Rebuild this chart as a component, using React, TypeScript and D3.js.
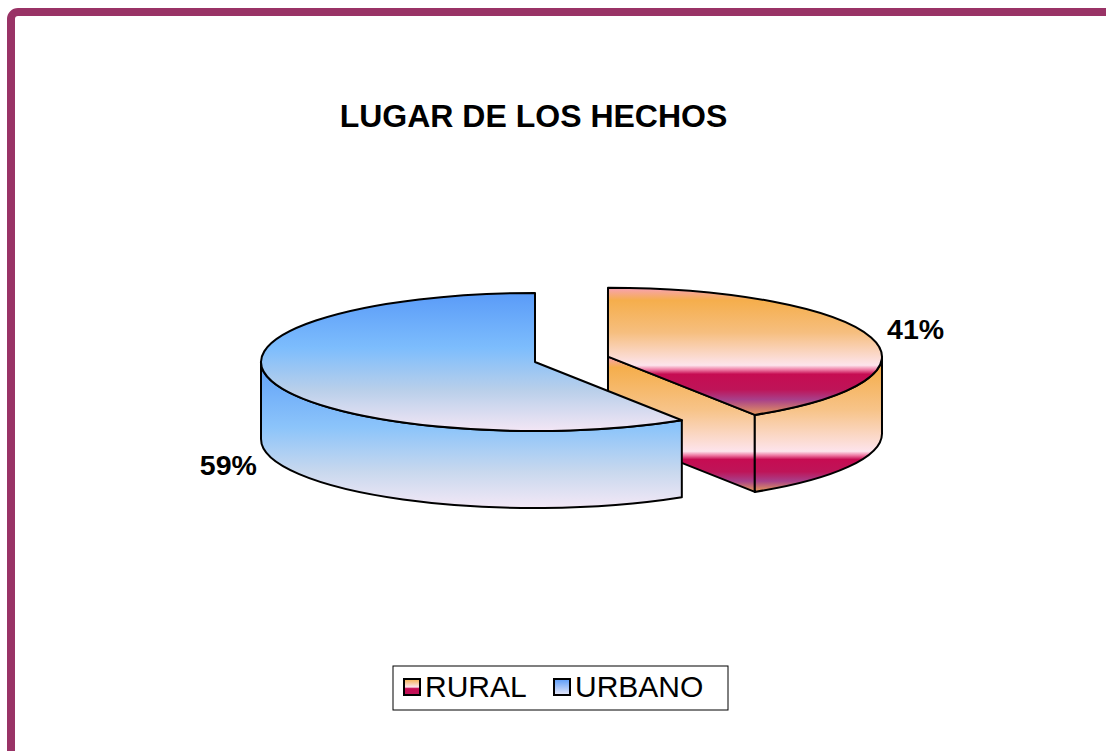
import React from "react";
import * as d3 from "d3";

const categories = ["RURAL", "URBANO"];
const values = [41, 59];
const title = "LUGAR DE LOS HECHOS";

const W = 1106;
const H = 751;
const CX = 535;
const CY = 362;
const RX = 274;
const RY = 69;
const DEPTH = 77;
const EXPLODE = [76, 0];
const FONT = "'Liberation Sans', Arial, Helvetica, sans-serif";

type Stop = [number, string];
const ruralTopStops: Stop[] = [
  [0, "#F8A2B6"], [0.1, "#F5AE4C"], [0.35, "#F6BE7E"], [0.61, "#FDE4EC"],
  [0.645, "#EE7AA4"], [0.68, "#C60C52"], [0.8, "#BE1458"], [0.88, "#A8408A"], [1, "#E89A5C"],
];
const ruralSideStops: Stop[] = [
  [0, "#F8A2B6"], [0.08, "#F5AE4C"], [0.4, "#F7C48A"], [0.7, "#FDE4EC"],
  [0.73, "#EE7AA4"], [0.76, "#C60C52"], [0.85, "#BE1458"], [0.92, "#A8408A"], [1, "#E8A058"],
];
const urbanTopStops: Stop[] = [
  [0, "#5A9BF8"], [0.4, "#7DBDFD"], [0.7, "#B8CFEA"], [1, "#F3E6F5"],
];
const urbanSideStops: Stop[] = [
  [0, "#5EA0F8"], [0.45, "#8CC4FA"], [0.75, "#C8D8EE"], [1, "#F3E8F6"],
];
const legendStops: Stop[][] = [
  [[0, "#F5AE4C"], [0.5, "#FDE4EC"], [0.6, "#C60C52"], [1, "#C0145A"]],
  [[0, "#5A9BF8"], [1, "#E8E8F8"]],
];

const gradIds = [
  { top: "rTop", side: "rSide", stopsTop: ruralTopStops, stopsSide: ruralSideStops },
  { top: "uTop", side: "uSide", stopsTop: urbanTopStops, stopsSide: urbanSideStops },
];

function Grad({ id, stops }: { id: string; stops: Stop[] }) {
  return (
    <linearGradient id={id} x1="0" y1="0" x2="0" y2="1">
      {stops.map(([o, c], i) => (
        <stop key={i} offset={o} stopColor={c} />
      ))}
    </linearGradient>
  );
}

export default function App() {
  const pie = d3
    .pie<number>()
    .sort(null)
    .startAngle(0)
    .endAngle(2 * Math.PI)
    .value((d) => d);
  const arcs = pie(values);
  const total = d3.sum(values);

  const slices = arcs.map((a, i) => {
    const mid = (a.startAngle + a.endAngle) / 2;
    const ox = EXPLODE[i] * Math.sin(mid);
    const oy = -EXPLODE[i] * Math.cos(mid) * (RY / RX);
    const pt = (t: number, z = 0): [number, number] => [
      CX + ox + RX * Math.sin(t),
      CY + oy - RY * Math.cos(t) + z,
    ];
    const apex: [number, number] = [CX + ox, CY + oy];
    const a0 = a.startAngle;
    const a1 = a.endAngle;
    const large = a1 - a0 > Math.PI ? 1 : 0;
    const p0 = pt(a0);
    const p1 = pt(a1);
    const top = `M${apex[0]},${apex[1]}L${p0[0]},${p0[1]}A${RX},${RY} 0 ${large} 1 ${p1[0]},${p1[1]}Z`;

    const s = Math.max(a0, Math.PI / 2);
    const e = Math.min(a1, (3 * Math.PI) / 2);
    let wall = "";
    if (e > s) {
      const w0 = pt(s);
      const w1 = pt(e);
      const b1 = pt(e, DEPTH);
      const b0 = pt(s, DEPTH);
      const lg = e - s > Math.PI ? 1 : 0;
      wall = `M${w0[0]},${w0[1]}A${RX},${RY} 0 ${lg} 1 ${w1[0]},${w1[1]}L${b1[0]},${b1[1]}A${RX},${RY} 0 ${lg} 0 ${b0[0]},${b0[1]}Z`;
    }
    // visible cut face at end angle if it faces the viewer
    let cut = "";
    const faceDir = a1 + Math.PI / 2;
    if (Math.cos(faceDir) < 0 && a1 < 2 * Math.PI - 1e-6) {
      const q = pt(a1, DEPTH);
      cut = `M${apex[0]},${apex[1]}L${p1[0]},${p1[1]}L${q[0]},${q[1]}L${apex[0]},${apex[1] + DEPTH}Z`;
    }
    const lp = pt(mid);
    const isRight = Math.sin(mid) > 0;
    const label = {
      x: isRight ? lp[0] + 16 : lp[0] - 15,
      y: isRight ? lp[1] + 2 : lp[1] + DEPTH + 17,
      anchor: isRight ? "start" : "end",
      text: `${Math.round((values[i] / total) * 100)}%`,
    };
    return { top, wall, cut, label, i };
  });

  const stroke = { stroke: "#000", strokeWidth: 2, strokeLinejoin: "round" as const };

  const legendX = 393;
  const legendY = 666;
  const legendItemX = [403, 553];

  return (
    <svg
      width={W}
      height={H}
      style={{ position: "absolute", left: 0, top: 0, display: "block", background: "#fff" }}
    >
      <defs>
        {gradIds.map((g) => (
          <React.Fragment key={g.top}>
            <Grad id={g.top} stops={g.stopsTop} />
            <Grad id={g.side} stops={g.stopsSide} />
          </React.Fragment>
        ))}
        {legendStops.map((st, i) => (
          <Grad key={i} id={`leg${i}`} stops={st} />
        ))}
      </defs>
      <rect x={0} y={0} width={W} height={H} fill="#fff" />
      <rect x={11} y={12} width={1300} height={900} rx={7} fill="none" stroke="#993366" strokeWidth={8} />

      <text
        x={533.5}
        y={127}
        textAnchor="middle"
        fontFamily={FONT}
        fontWeight="bold"
        fontSize={32}
        fill="#000"
      >
        {title}
      </text>

      {slices.map((s) => (
        <g key={s.i}>
          {s.cut && <path d={s.cut} fill={`url(#${gradIds[s.i].side})`} {...stroke} />}
          {s.wall && <path d={s.wall} fill={`url(#${gradIds[s.i].side})`} {...stroke} />}
          <path d={s.top} fill={`url(#${gradIds[s.i].top})`} {...stroke} />
        </g>
      ))}

      {slices.map((s) => (
        <text
          key={`l${s.i}`}
          x={s.label.x}
          y={s.label.y}
          textAnchor={s.label.anchor}
          fontFamily={FONT}
          fontWeight="bold"
          fontSize={28.5}
          fill="#000"
        >
          {s.label.text}
        </text>
      ))}

      <rect x={legendX} y={legendY} width={335} height={44} fill="#fff" stroke="#000" strokeWidth={1} />
      {categories.map((c, i) => (
        <g key={c}>
          <rect
            x={legendItemX[i] + 1}
            y={679}
            width={16}
            height={16}
            fill={`url(#leg${i})`}
            stroke="#000"
            strokeWidth={2}
          />
          <text x={legendItemX[i] + 22} y={697} fontFamily={FONT} fontSize={30} fill="#000">
            {c}
          </text>
        </g>
      ))}
    </svg>
  );
}
